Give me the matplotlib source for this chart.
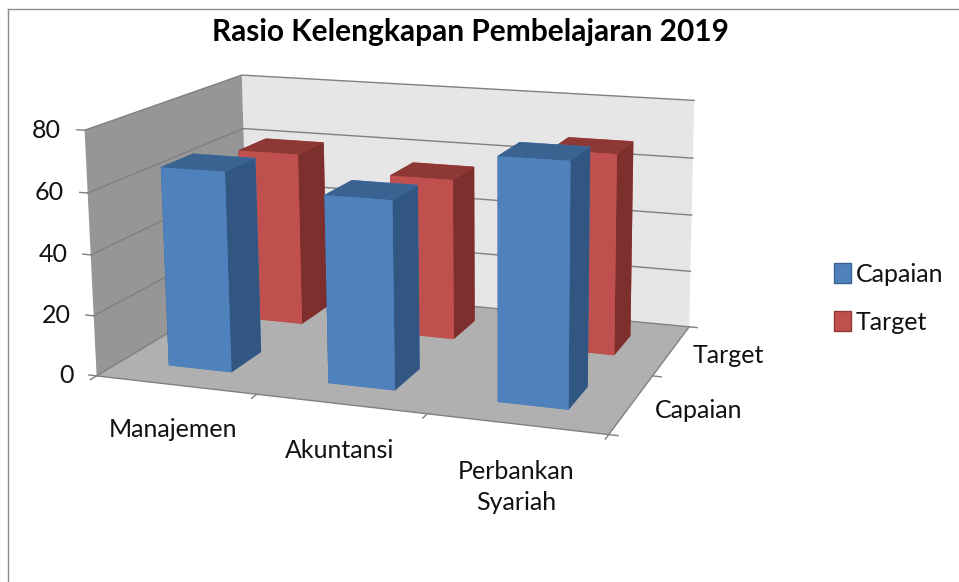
import matplotlib
matplotlib.use("Agg")
import matplotlib.pyplot as plt
from matplotlib.lines import Line2D
from matplotlib.patches import Patch
from mpl_toolkits.mplot3d import proj3d
from mpl_toolkits.mplot3d.art3d import Poly3DCollection

plt.rcParams['font.family'] = ['Lato', 'DejaVu Sans']

# chart data
categories = ["Manajemen", "Akuntansi", "Perbankan\nSyariah"]
series_names = ["Capaian", "Target"]
capaian = [66, 61, 77]
target = [60.5, 55.5, 68]
z_ticks = [0, 20, 40, 60, 80]

W, H = 959, 582
BLUE = ["#4F81BD", "#3A6391", "#4F81BD", "#4F81BD", "#325682", "#325682"]
RED = ["#C0504D", "#8E3836", "#C0504D", "#C0504D", "#7D2F2D", "#7D2F2D"]
LINE = "#808080"
TEXT = "#111111"
FS = 18

fig = plt.figure(figsize=(W / 100, H / 100), dpi=100, facecolor="white")

# chart border, only top and left are visible in the crop
fig.add_artist(Line2D([8 / W, 8 / W], [0, 1 - 9 / H], color="#8c8c8c", lw=1))
fig.add_artist(Line2D([8 / W, 1], [1 - 9 / H, 1 - 9 / H], color="#8c8c8c", lw=1))

# the excel camera is off centre, so the axes box is bigger than the drawn chart
# and its middle sits on the camera axis
size = 901
cx, cy = 492, 165
ax = fig.add_axes([(cx - size / 2) / W, (H - cy - size / 2) / H, size / W, size / H],
                  projection="3d", computed_zorder=False)
ax.set_proj_type("persp", focal_length=0.37)
ax.view_init(elev=11.9, azim=-72.0)
ax.set_box_aspect((725, 334, 423.7))
ax.set_xlim(0, 4.23, view_margin=0)
ax.set_ylim(0, 2, view_margin=0)
ax.set_zlim(0, 139.2, view_margin=0)
ax.set_xticks([])
ax.set_yticks([])
ax.set_zticks([])
ax.set_axis_off()
ax.patch.set_alpha(0)

nx, ny, zmax = len(categories), len(series_names), z_ticks[-1]


def label(x, y, z, s, **kw):
    # plain 2d text placed at a projected 3d point
    px, py, _ = proj3d.proj_transform(x, y, z, ax.get_proj())
    return ax.text2D(px, py, s, transform=ax.transData, fontsize=FS, color=TEXT, **kw)


# walls and floor
floor = [(0, 0, 0), (nx, 0, 0), (nx, ny, 0), (0, ny, 0)]
back = [(0, ny, 0), (nx, ny, 0), (nx, ny, zmax), (0, ny, zmax)]
left = [(0, 0, 0), (0, ny, 0), (0, ny, zmax), (0, 0, zmax)]
for poly, col in [(back, "#E6E6E6"), (left, "#969696"), (floor, "#B0B0B0")]:
    ax.add_collection3d(Poly3DCollection([poly], facecolors=col, edgecolors="none", zorder=1))

# gridlines and ticks
for z in z_ticks:
    ax.plot([0, 0, nx], [0, ny, ny], [z, z, z], color=LINE, lw=1, zorder=2)
    ax.plot([-0.05, 0], [0, 0], [z, z], color=LINE, lw=1, zorder=2)
    label(-0.15, 0, z - 0.6, str(z), ha="right", va="center")
for i in range(nx + 1):
    ax.plot([i, i], [0, -0.07], [0, 0], color=LINE, lw=1, zorder=2)
for j in range(ny + 1):
    ax.plot([nx, nx + 0.05], [j, j], [0, 0], color=LINE, lw=1, zorder=2)
ax.plot([0, nx, nx], [0, 0, ny], [0, 0, 0], color=LINE, lw=1, zorder=2)

# bars, back row first so the front row covers it
bar = 0.4
rows = [(1, target, RED), (0, capaian, BLUE)]
for j, values, cols in rows:
    for i, v in enumerate(values):
        c = ax.bar3d(i + 0.5 - bar / 2, j + 0.5 - bar / 2, 0, bar, bar, v,
                     color=cols, shade=False, edgecolor="none", linewidth=0)
        c.set_zorder(3 + (1 - j) * 10 + i)

# axis labels
for i, name in enumerate(categories):
    label(i + 0.53, -0.1, -9, name, ha="center", va="top", linespacing=1.4, zorder=40)
for j, name in enumerate(series_names):
    label(nx + 0.13, j + 0.5, -1.2, name, ha="left", va="center", zorder=40)

fig.text(470 / W, 1 - 32 / H, "Rasio Kelengkapan Pembelajaran 2019", ha="center", va="center",
         fontsize=21.5, fontweight="bold", color="#000000")

handles = [Patch(facecolor="#4F81BD", edgecolor="#3A6391", label=series_names[0]),
           Patch(facecolor="#C0504D", edgecolor="#8E3836", label=series_names[1])]
fig.legend(handles=handles, loc="center left", bbox_to_anchor=(834 / W, 1 - 298 / H), frameon=False,
           fontsize=FS, handlelength=0.66, handleheight=0.9, handletextpad=0.2, labelspacing=1.0,
           borderpad=0, borderaxespad=0, labelcolor=TEXT)

fig.savefig("out.png", dpi=100)
